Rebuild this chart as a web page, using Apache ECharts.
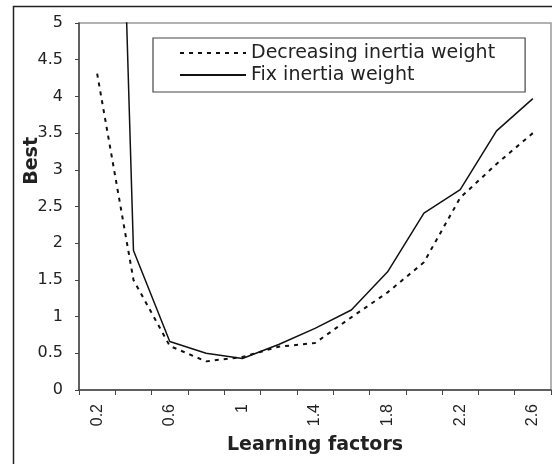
<!DOCTYPE html>
<html>
<head>
<meta charset="utf-8">
<script src="https://cdn.jsdelivr.net/npm/echarts@6/dist/echarts.min.js"></script>
<style>
html,body{margin:0;padding:0;background:#fff;}
#chart{width:552px;height:464px;}
</style>
</head>
<body>
<div id="chart"></div>
<script>
var categories = ['0.2','0.4','0.6','0.8','1','1.2','1.4','1.6','1.8','2','2.2','2.4','2.6'];
var decreasingWeight = [4.31, 1.5, 0.6, 0.39, 0.45, 0.59, 0.64, 0.99, 1.33, 1.74, 2.62, 3.08, 3.5];
var fixWeight = [18.5, 1.9, 0.66, 0.5, 0.43, 0.62, 0.84, 1.09, 1.61, 2.41, 2.73, 3.53, 3.97];
var yTicks = [0, 0.5, 1, 1.5, 2, 2.5, 3, 3.5, 4, 4.5, 5];

var chart = echarts.init(document.getElementById('chart'), null, {renderer: 'canvas'});
chart.setOption({
  backgroundColor: '#fff',
  animation: false,
  graphic: [
    {type: 'rect', shape: {x: 13.5, y: 6.5, width: 600, height: 500},
     style: {fill: 'none', stroke: '#222', lineWidth: 1.5}, z: 0},
    {type: 'text', left: 23, top: 137, rotation: Math.PI / 2,
     style: {text: 'Best', font: 'bold 19px "DejaVu Sans"', fill: '#222'}, z: 5}
  ],
  grid: {left: 79, right: 1, top: 23, bottom: 74, show: true, borderColor: '#999', borderWidth: 1.5},
  legend: {
    left: 153, top: 38, orient: 'vertical',
    padding: [5, 30, 7, 26],
    borderColor: '#444', borderWidth: 1.2,
    itemWidth: 66, itemHeight: 14, itemGap: 2,
    itemStyle: {opacity: 0},
    textStyle: {fontFamily: 'DejaVu Sans', fontSize: 19, color: '#222', lineHeight: 20},
    data: ['Decreasing inertia weight', 'Fix inertia weight']
  },
  xAxis: {
    type: 'category', data: categories, boundaryGap: true,
    name: 'Learning factors', nameLocation: 'middle', nameGap: 46,
    nameTextStyle: {fontFamily: 'DejaVu Sans', fontWeight: 'bold', fontSize: 19, color: '#222'},
    axisLine: {lineStyle: {color: '#444', width: 1.5}},
    axisTick: {show: true, interval: 0, length: 5, lineStyle: {color: '#444'}},
    axisLabel: {interval: 1, rotate: 90, margin: 14, fontFamily: 'Liberation Sans', fontSize: 16, color: '#222'},
    splitLine: {show: false}
  },
  yAxis: {
    type: 'value', min: 0, max: 5, interval: 0.5,
    axisLine: {show: true, lineStyle: {color: '#444', width: 1.5}},
    axisTick: {show: true, length: 4, lineStyle: {color: '#444'}},
    axisLabel: {margin: 16, fontFamily: 'DejaVu Sans', fontSize: 16, color: '#222',
      formatter: function (v) { return String(v); }},
    splitLine: {show: false}
  },
  series: [
    {name: 'Decreasing inertia weight', type: 'line', data: decreasingWeight,
     symbol: 'none', clip: true,
     lineStyle: {color: '#111', width: 2, type: [4, 5]}, itemStyle: {color: '#111'}},
    {name: 'Fix inertia weight', type: 'line', data: fixWeight,
     symbol: 'none', clip: true,
     lineStyle: {color: '#111', width: 1.5, type: 'solid'}, itemStyle: {color: '#111'}}
  ]
});
</script>
</body>
</html>
